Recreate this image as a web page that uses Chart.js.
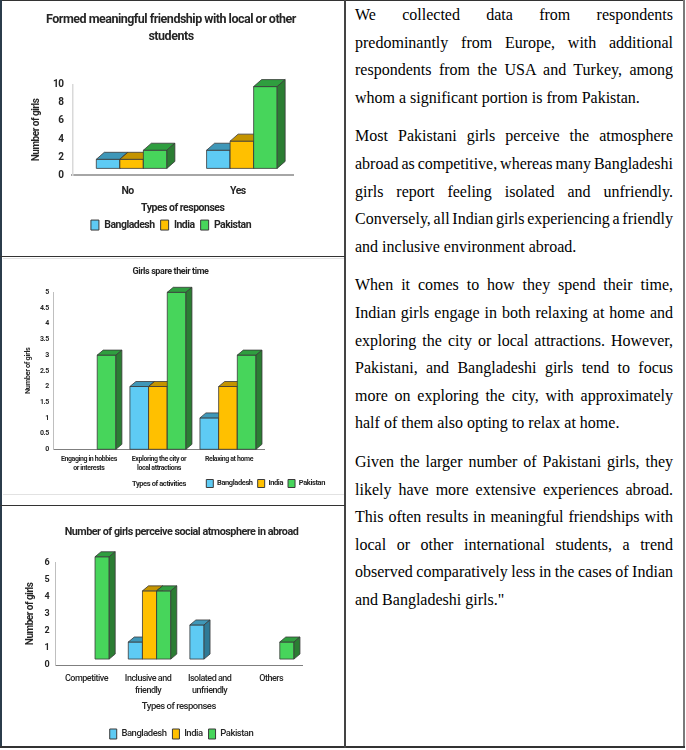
<!DOCTYPE html>
<html>
<head>
<meta charset="utf-8">
<script src="https://cdn.jsdelivr.net/npm/chart.js@4.4.1/dist/chart.umd.min.js"></script>
<style>
  body { margin: 0; width: 686px; height: 750px; background: #fff; position: relative; overflow: hidden; }
  .line { position: absolute; }
  .box { position: absolute; }
  .text {
    position: absolute; left: 346px; top: 1px; width: 318px; padding: 0 10px 0 9px;
    font-family: "Liberation Serif", "Times New Roman", serif; font-size: 16px; line-height: 27.6px;
    color: #000;
  }
  .text p { margin: 0 0 11px; }
  .text span { display: block; }
  .text span.j { text-align: justify; text-align-last: justify; word-spacing: -2px; }
</style>
</head>
<body>
<div class="box" style="left:3px;top:2px;width:341px;height:253px"><canvas id="friendChart"></canvas></div>
<div class="box" style="left:3px;top:258px;width:341px;height:240px"><canvas id="timeChart"></canvas></div>
<div class="box" style="left:3px;top:507px;width:341px;height:242px"><canvas id="atmosChart"></canvas></div>

<div class="line" style="left:3px;top:258px;width:341px;height:1px;background:#e2e2e2"></div>
<div class="line" style="left:3px;top:494px;width:341px;height:1px;background:#e2e2e2"></div>
<div class="line" style="left:0;top:0;width:685px;height:1px;background:#333"></div>
<div class="line" style="left:0;top:0;width:2px;height:748px;background:#2b3c4b"></div>
<div class="line" style="left:683px;top:0;width:2px;height:748px;background:#7a7a7a"></div>
<div class="line" style="left:0;top:746px;width:685px;height:2px;background:#333"></div>
<div class="line" style="left:344px;top:0;width:1.5px;height:748px;background:#444"></div>
<div class="line" style="left:0;top:256px;width:345px;height:1px;background:#333"></div>
<div class="line" style="left:0;top:505px;width:345px;height:1px;background:#333"></div>

<div class="text">
  <p>
    <span class="j">We collected data from respondents</span>
    <span class="j">predominantly from Europe, with additional</span>
    <span class="j">respondents from the USA and Turkey, among</span>
    <span>whom a significant portion is from Pakistan.</span>
  </p>
  <p>
    <span class="j">Most Pakistani girls perceive the atmosphere</span>
    <span class="j">abroad as competitive, whereas many Bangladeshi</span>
    <span class="j">girls report feeling isolated and unfriendly.</span>
    <span class="j">Conversely, all Indian girls experiencing a friendly</span>
    <span>and inclusive environment abroad.</span>
  </p>
  <p>
    <span class="j">When it comes to how they spend their time,</span>
    <span class="j">Indian girls engage in both relaxing at home and</span>
    <span class="j">exploring the city or local attractions. However,</span>
    <span class="j">Pakistani, and Bangladeshi girls tend to focus</span>
    <span class="j">more on exploring the city, with approximately</span>
    <span>half of them also opting to relax at home.</span>
  </p>
  <p>
    <span class="j">Given the larger number of Pakistani girls, they</span>
    <span class="j">likely have more extensive experiences abroad.</span>
    <span class="j">This often results in meaningful friendships with</span>
    <span class="j">local or other international students, a trend</span>
    <span class="j">observed comparatively less in the cases of Indian</span>
    <span>and Bangladeshi girls."</span>
  </p>
</div>

<script>
const countries = ["Bangladesh", "India", "Pakistan"];

const friendCategories = ["No", "Yes"];
const friendBangladesh = [1, 2];
const friendIndia = [1, 3];
const friendPakistan = [2, 9];

const timeCategories = [
  ["Engaging in hobbies", "or interests"],
  ["Exploring the city or", "local attractions"],
  "Relaxing at home",
];
const timeBangladesh = [0, 2, 1];
const timeIndia = [0, 2, 2];
const timePakistan = [3, 5, 3];

const atmosCategories = [
  "Competitive",
  ["Inclusive and", "friendly"],
  ["Isolated and", "unfriendly"],
  "Others",
];
const atmosBangladesh = [0, 1, 2, 0];
const atmosIndia = [0, 4, 0, 0];
const atmosPakistan = [6, 4, 0, 1];

const frontColors = ["#5ecbf4", "#ffc000", "#47d55b"];
const topColors = ["#3f97b8", "#c49400", "#2f9e3f"];
const sideColors = ["#2f7a96", "#a07800", "#2b7d33"];

Chart.defaults.font.family = "Roboto, 'Noto Sans', sans-serif";
Chart.defaults.color = "#262626";

// the original uses a narrow font, so squeeze the letters a bit
const tight = {
  id: "tight",
  beforeUpdate(chart, args, opts) {
    chart.ctx.letterSpacing = opts.spacing;
  },
  beforeDraw(chart, args, opts) {
    chart.ctx.letterSpacing = opts.spacing;
  },
};

// columns get a fake depth: front face, top and right side
const bar3d = {
  id: "bar3d",
  beforeDatasetsDraw(chart, args, opts) {
    const { ctx } = chart;
    const { dx, dy, raise, shift } = opts;
    const face = (pts, color) => {
      ctx.beginPath();
      pts.forEach(([px, py], k) => (k ? ctx.lineTo(px, py) : ctx.moveTo(px, py)));
      ctx.closePath();
      ctx.fillStyle = color;
      ctx.fill();
      ctx.stroke();
    };
    ctx.save();
    ctx.lineWidth = 0.8;
    ctx.strokeStyle = "#3a3a3a";
    chart.data.datasets.forEach((ds, i) => {
      chart.getDatasetMeta(i).data.forEach((bar, j) => {
        if (!ds.data[j]) return;
        const { x, y, base, width } = bar.getProps(["x", "y", "base", "width"], true);
        const left = x - width / 2 + shift;
        const right = left + width;
        const top = y - raise;
        const bottom = base - raise;
        face([[left, top], [right, top], [right, bottom], [left, bottom]], frontColors[i]);
        face([[left, top], [left + dx, top - dy], [right + dx, top - dy], [right, top]], topColors[i]);
        face([[right, top], [right + dx, top - dy], [right + dx, bottom - dy], [right, bottom]], sideColors[i]);
      });
    });
    ctx.restore();
    return false;
  },
};

const makeDatasets = (...series) =>
  series.map((data, i) => ({
    label: countries[i],
    data,
    backgroundColor: frontColors[i],
    borderColor: "#3a3a3a",
    borderWidth: 1,
  }));

const spacer = (width) => ({
  type: "linear",
  position: "right",
  grid: { display: false, drawTicks: false },
  border: { display: false },
  ticks: { display: false },
  afterFit: (scale) => {
    scale.width = width;
  },
});

new Chart(document.getElementById("friendChart"), {
  type: "bar",
  data: {
    labels: friendCategories,
    datasets: makeDatasets(friendBangladesh, friendIndia, friendPakistan),
  },
  options: {
    responsive: true,
    maintainAspectRatio: false,
    animation: false,
    categoryPercentage: 0.64,
    barPercentage: 1,
    layout: { padding: { left: 0, right: 5, top: 9.5, bottom: 14.7 } },
    scales: {
      x: {
        grid: { display: false, drawTicks: false },
        border: { color: "#a6a6a6", width: 2 },
        ticks: { padding: 9.5, autoSkip: false, font: { size: 10.5, weight: "bold" } },
        title: {
          display: true,
          text: "Types of responses",
          font: { size: 10.5, weight: "bold" },
          padding: { top: -5.3, bottom: -0.5 },
        },
      },
      y: {
        min: 0,
        max: 10,
        grid: { display: false, drawTicks: false },
        border: { color: "#d9d9d9", width: 1.5 },
        ticks: { stepSize: 2, padding: 9, autoSkip: false, font: { size: 10, weight: "bold" } },
        title: {
          display: true,
          text: "Number of girls",
          font: { size: 10, weight: "bold" },
          padding: { top: 27, bottom: 2 },
        },
      },
      spacer: spacer(46),
    },
    plugins: {
      title: {
        display: true,
        text: ["Formed meaningful friendship with local or other", "students"],
        font: { size: 12.5, weight: "bold", lineHeight: 1.36 },
        padding: { top: 0, bottom: 39 },
      },
      legend: {
        position: "bottom",
        labels: { boxWidth: 8, boxHeight: 10, padding: 6, font: { size: 10.5, weight: "bold" } },
      },
      tooltip: { enabled: false },
      tight: { spacing: "-0.5px" },
      bar3d: { dx: 8, dy: 7, raise: 7, shift: 4 },
    },
  },
  plugins: [tight, bar3d],
});

new Chart(document.getElementById("timeChart"), {
  type: "bar",
  data: {
    labels: timeCategories,
    datasets: makeDatasets(timeBangladesh, timeIndia, timePakistan),
  },
  options: {
    responsive: true,
    maintainAspectRatio: false,
    animation: false,
    categoryPercentage: 0.8,
    barPercentage: 1,
    layout: { padding: { left: 8, right: 14, top: 8, bottom: 0.5 } },
    scales: {
      x: {
        grid: { display: false, drawTicks: false },
        border: { color: "#7f7f7f", width: 1 },
        ticks: {
          padding: 5.5,
          autoSkip: false,
          maxRotation: 0,
          font: { size: 7, weight: "bold", lineHeight: 1.3 },
        },
        title: {
          display: true,
          text: "Types of activities",
          font: { size: 7.5, weight: "bold" },
          padding: { top: 1, bottom: -14 },
        },
      },
      y: {
        min: 0,
        max: 5,
        grid: { display: false, drawTicks: false },
        border: { color: "#bfbfbf", width: 1 },
        ticks: {
          stepSize: 0.5,
          padding: 5,
          autoSkip: false,
          callback: (v) => v,
          font: { size: 7, weight: "bold" },
        },
        title: {
          display: true,
          text: "Number of girls",
          font: { size: 7.5, weight: "bold" },
          padding: { top: 13, bottom: 2 },
        },
      },
      spacer: spacer(66),
    },
    plugins: {
      title: {
        display: true,
        text: "Girls spare their time",
        font: { size: 9, weight: "bold" },
        padding: { top: 0, bottom: 15.5 },
      },
      legend: {
        position: "bottom",
        align: "end",
        labels: { boxWidth: 7, boxHeight: 8, padding: 5, font: { size: 7.5, weight: "bold" } },
      },
      tooltip: { enabled: false },
      tight: { spacing: "-0.4px" },
      bar3d: { dx: 6, dy: 5, raise: 0, shift: -1 },
    },
  },
  plugins: [tight, bar3d],
});

new Chart(document.getElementById("atmosChart"), {
  type: "bar",
  data: {
    labels: atmosCategories,
    datasets: makeDatasets(atmosBangladesh, atmosIndia, atmosPakistan),
  },
  options: {
    responsive: true,
    maintainAspectRatio: false,
    animation: false,
    categoryPercentage: 0.69,
    barPercentage: 1,
    layout: { padding: { left: 21, right: 5, top: 18.4, bottom: 0 } },
    scales: {
      x: {
        grid: { display: false, drawTicks: false },
        border: { color: "#7f7f7f", width: 1 },
        ticks: {
          padding: 8,
          autoSkip: false,
          maxRotation: 0,
          font: { size: 9, weight: "500", lineHeight: 1.33 },
        },
        title: {
          display: true,
          text: "Types of responses",
          font: { size: 9.5, weight: "500" },
          padding: { top: -3.7, bottom: 10.3 },
        },
      },
      y: {
        min: 0,
        max: 6,
        grid: { display: false, drawTicks: false },
        border: { color: "#bfbfbf", width: 1 },
        ticks: { stepSize: 1, padding: 6.5, autoSkip: false, font: { size: 9, weight: "bold" } },
        title: {
          display: true,
          text: "Number of girls",
          font: { size: 10, weight: "bold" },
          padding: { top: 0, bottom: 2 },
        },
      },
      spacer: spacer(37),
    },
    plugins: {
      title: {
        display: true,
        text: "Number of girls perceive social atmosphere in abroad",
        font: { size: 10.8, weight: "bold" },
        padding: { top: 0, bottom: 24.4 },
      },
      legend: {
        position: "bottom",
        labels: { boxWidth: 7, boxHeight: 10, padding: 6, font: { size: 9.5, weight: "500" } },
      },
      tooltip: { enabled: false },
      tight: { spacing: "-0.5px" },
      bar3d: { dx: 6, dy: 5, raise: 6, shift: 1.5 },
    },
  },
  plugins: [tight, bar3d],
});
</script>
</body>
</html>
